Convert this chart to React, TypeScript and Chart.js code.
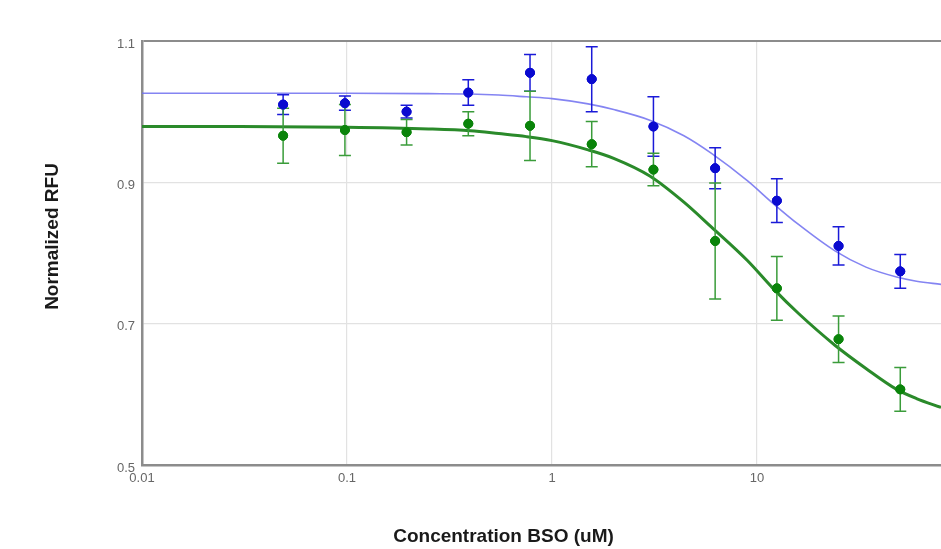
import React, { useEffect, useRef } from "react";
import { Chart, registerables } from "chart.js";

Chart.register(...registerables);

// Concentrations (uM), twofold dilution series
const CONC = [0.0488, 0.0977, 0.1953, 0.3906, 0.7813, 1.5625, 3.125, 6.25, 12.5, 25, 50];

const BLUE_MEAN = [1.010, 1.012, 1.000, 1.027, 1.055, 1.046, 0.979, 0.920, 0.874, 0.810, 0.774];
const BLUE_ERR = [0.014, 0.010, 0.009, 0.018, 0.026, 0.046, 0.042, 0.029, 0.031, 0.027, 0.024];
const GREEN_MEAN = [0.966, 0.974, 0.971, 0.983, 0.980, 0.954, 0.918, 0.817, 0.750, 0.678, 0.607];
const GREEN_ERR = [0.039, 0.036, 0.018, 0.017, 0.049, 0.032, 0.023, 0.082, 0.045, 0.033, 0.031];

// Fitted curves
const CURVE_X = [0.01, 0.03, 0.1, 0.25, 0.4, 0.55, 0.75, 1, 1.5, 2, 3, 4.4, 6, 9, 12, 16, 24, 34, 48, 60, 79];
const BLUE_FIT = [1.026, 1.026, 1.026, 1.0255, 1.025, 1.0235, 1.021, 1.0185, 1.011, 1.003, 0.988, 0.966, 0.941, 0.902, 0.870, 0.840, 0.803, 0.780, 0.766, 0.760, 0.7556];
const GREEN_FIT = [0.979, 0.979, 0.978, 0.9756, 0.973, 0.969, 0.9647, 0.959, 0.946, 0.934, 0.909, 0.872, 0.8366, 0.789, 0.7496, 0.714, 0.6695, 0.6366, 0.607, 0.594, 0.5815];

const X_TICKS = [0.01, 0.1, 1, 10];
const Y_TICKS = [0.5, 0.7, 0.9, 1.1];
const X_MIN = 0.01;
const X_MAX = 79;
const Y_MIN = 0.5;
const Y_MAX = 1.1;

const X_TITLE = "Concentration BSO (uM)";
const Y_TITLE = "Normalized RFU";

const errorBarPlugin = {
  id: "errorBars",
  afterDatasetsDraw(chart: any) {
    const { ctx, scales } = chart;
    const xs = scales.x;
    const ys = scales.y;
    chart.data.datasets.forEach((ds: any, i: number) => {
      if (!ds.errors) return;
      const meta = chart.getDatasetMeta(i);
      if (meta.hidden) return;
      ctx.save();
      ctx.strokeStyle = ds.errorColor;
      ctx.lineWidth = 1.5;
      ds.data.forEach((p: any, j: number) => {
        const e = ds.errors[j];
        const px = xs.getPixelForValue(p.x);
        const top = ys.getPixelForValue(p.y + e);
        const bot = ys.getPixelForValue(p.y - e);
        ctx.beginPath();
        ctx.moveTo(px, top);
        ctx.lineTo(px, bot);
        ctx.moveTo(px - 6, top);
        ctx.lineTo(px + 6, top);
        ctx.moveTo(px - 6, bot);
        ctx.lineTo(px + 6, bot);
        ctx.stroke();
      });
      ctx.restore();
    });
    // redraw points on top of error bars
    chart.data.datasets.forEach((ds: any, i: number) => {
      if (!ds.errors) return;
      const meta = chart.getDatasetMeta(i);
      meta.data.forEach((el: any) => el.draw(ctx, chart.chartArea));
    });
  },
};

const titlePlugin = {
  id: "axisTitles",
  afterDraw(chart: any) {
    const { ctx } = chart;
    ctx.save();
    ctx.fillStyle = "#1a1a1a";
    ctx.font = "bold 19px 'Liberation Sans', Arial, sans-serif";
    ctx.textAlign = "center";
    ctx.textBaseline = "middle";
    ctx.fillText(X_TITLE, 503.5, 537);
    ctx.translate(53, 236.5);
    ctx.rotate(-Math.PI / 2);
    ctx.fillText(Y_TITLE, 0, 0);
    ctx.restore();
  },
};

export default function App() {
  const ref = useRef<HTMLCanvasElement | null>(null);

  useEffect(() => {
    if (!ref.current) return;
    const chart = new Chart(ref.current, {
      type: "scatter",
      data: {
        datasets: [
          {
            type: "line",
            data: CURVE_X.map((x, i) => ({ x, y: BLUE_FIT[i] })),
            borderColor: "rgba(110,110,240,0.85)",
            borderWidth: 1.6,
            pointRadius: 0,
            cubicInterpolationMode: "monotone",
            fill: false,
          } as any,
          {
            type: "line",
            data: CURVE_X.map((x, i) => ({ x, y: GREEN_FIT[i] })),
            borderColor: "#2a8a2a",
            borderWidth: 3,
            pointRadius: 0,
            cubicInterpolationMode: "monotone",
            fill: false,
          } as any,
          {
            data: CONC.map((x, i) => ({ x, y: BLUE_MEAN[i] })),
            backgroundColor: "#0a0ad0",
            borderColor: "#0a0ad0",
            pointRadius: 4.5,
            errors: BLUE_ERR,
            errorColor: "#1a1ad8",
          } as any,
          {
            data: CONC.map((x, i) => ({ x, y: GREEN_MEAN[i] })),
            backgroundColor: "#0a840a",
            borderColor: "#0a840a",
            pointRadius: 4.5,
            errors: GREEN_ERR,
            errorColor: "#3a9c3a",
          } as any,
        ],
      },
      options: {
        responsive: false,
        animation: false,
        layout: { autoPadding: false, padding: { left: 0, right: 0, top: 41, bottom: 0 } },
        plugins: {
          legend: { display: false },
          tooltip: { enabled: false },
          title: { display: false },
        },
        scales: {
          x: {
            type: "logarithmic",
            min: X_MIN,
            max: X_MAX,
            afterBuildTicks: (s: any) => {
              s.ticks = X_TICKS.map((v) => ({ value: v }));
            },
            afterFit: (s: any) => {
              s.height = 84;
            },
            ticks: {
              autoSkip: false,
              maxRotation: 0,
              padding: 6,
              color: "#666",
              font: { size: 13, family: "'Liberation Sans', Arial, sans-serif" },
              callback: (v: any) => String(v),
            },
            grid: {
              drawTicks: false,
              color: (c: any) => (c.tick && c.tick.value === X_MIN ? "rgba(0,0,0,0)" : "#e2e2e2"),
              lineWidth: 1.2,
            },
            border: { color: "#8c8c8c", width: 2.5 },
          },
          y: {
            type: "linear",
            min: Y_MIN,
            max: Y_MAX,
            afterBuildTicks: (s: any) => {
              s.ticks = Y_TICKS.map((v) => ({ value: v }));
            },
            afterFit: (s: any) => {
              s.width = 142;
            },
            ticks: {
              padding: 7,
              labelOffset: 3,
              color: "#666",
              font: { size: 13, family: "'Liberation Sans', Arial, sans-serif" },
              callback: (v: any) => String(v),
            },
            grid: {
              drawTicks: false,
              color: (c: any) =>
                c.tick && c.tick.value === Y_MAX
                  ? "#8c8c8c"
                  : c.tick && c.tick.value === Y_MIN
                  ? "rgba(0,0,0,0)"
                  : "#e2e2e2",
              lineWidth: (c: any) => (c.tick && c.tick.value === Y_MAX ? 2 : 1.2),
            },
            border: { color: "#8c8c8c", width: 2.5 },
          },
        },
      },
      plugins: [errorBarPlugin, titlePlugin],
    } as any);
    return () => chart.destroy();
  }, []);

  return (
    <div style={{ position: "absolute", left: 0, top: 0, width: 941, height: 549, overflow: "hidden", background: "#fff" }}>
      <canvas ref={ref} width={941} height={549} style={{ display: "block" }} />
    </div>
  );
}
